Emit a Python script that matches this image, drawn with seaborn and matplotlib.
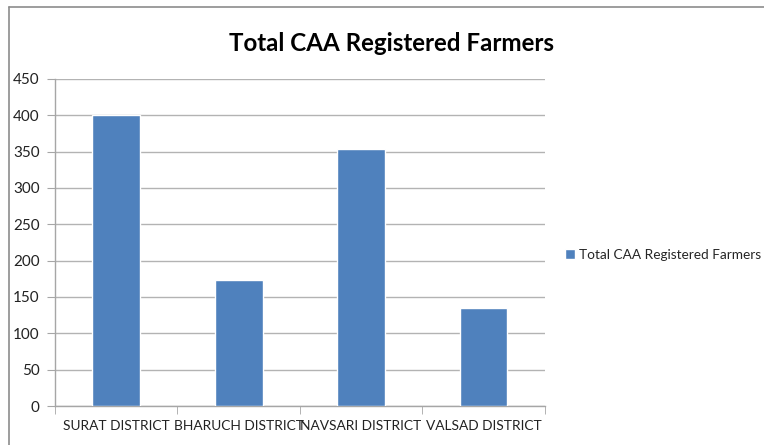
import matplotlib
matplotlib.use("Agg")
import matplotlib.pyplot as plt
import matplotlib.lines as mlines
import seaborn as sns
import pandas as pd
import numpy as np

# data
districts = ["SURAT DISTRICT", "BHARUCH DISTRICT", "NAVSARI DISTRICT", "VALSAD DISTRICT"]
farmers = [400, 173, 353, 135]
series_name = "Total CAA Registered Farmers"
y_ticks = list(range(0, 451, 50))

sns.set_style("white")
plt.rcParams["font.family"] = ["Lato", "DejaVu Sans"]

df = pd.DataFrame({"district": districts, "farmers": farmers})

fig = plt.figure(figsize=(7.64, 4.45), dpi=100)
ax = fig.add_axes([0.072, 0.0876, 0.641, 0.735])

sns.barplot(data=df, x="district", y="farmers", color="#4F81BD",
            width=0.39, saturation=1, label=series_name, ax=ax, zorder=3)

ax.set_ylim(0, 450)
ax.set_yticks(y_ticks)
ax.set_xlim(-0.5, len(districts) - 0.5)
ax.set_xlabel("")
ax.set_ylabel("")
ax.yaxis.grid(True, color="#b3b3b3", linewidth=1, zorder=0)
ax.set_axisbelow(True)

for s in ["top", "right"]:
    ax.spines[s].set_visible(False)
for s in ["left", "bottom"]:
    ax.spines[s].set_color("#a6a6a6")
    ax.spines[s].set_linewidth(1)

ax.tick_params(axis="y", direction="out", length=6, color="#a6a6a6",
               labelsize=11, pad=5, left=True, labelcolor="#222222")
ax.tick_params(axis="x", which="major", length=0, labelsize=9.9, pad=10,
               labelcolor="#222222")
ax.set_xticks(np.arange(-0.5, len(districts), 1.0), minor=True)
ax.tick_params(axis="x", which="minor", direction="out", length=6,
               color="#a6a6a6", bottom=True)

fig.text(0.513, 0.903, series_name, ha="center", va="center",
         fontsize=17.4, fontweight="bold", color="black")

ax.legend(loc="center left", bbox_to_anchor=(0.736, 0.428),
          bbox_transform=fig.transFigure, frameon=False, fontsize=9.8,
          handlelength=0.75, handleheight=0.75, handletextpad=0.25,
          borderpad=0.2, borderaxespad=0)

# outer chart frame (left and top)
fig.add_artist(mlines.Line2D([0.012, 0.012], [0.0, 0.985], color="#8c8c8c", lw=1.2))
fig.add_artist(mlines.Line2D([0.012, 1.0], [0.985, 0.985], color="#8c8c8c", lw=1.2))

fig.savefig("out.png", dpi=100)
